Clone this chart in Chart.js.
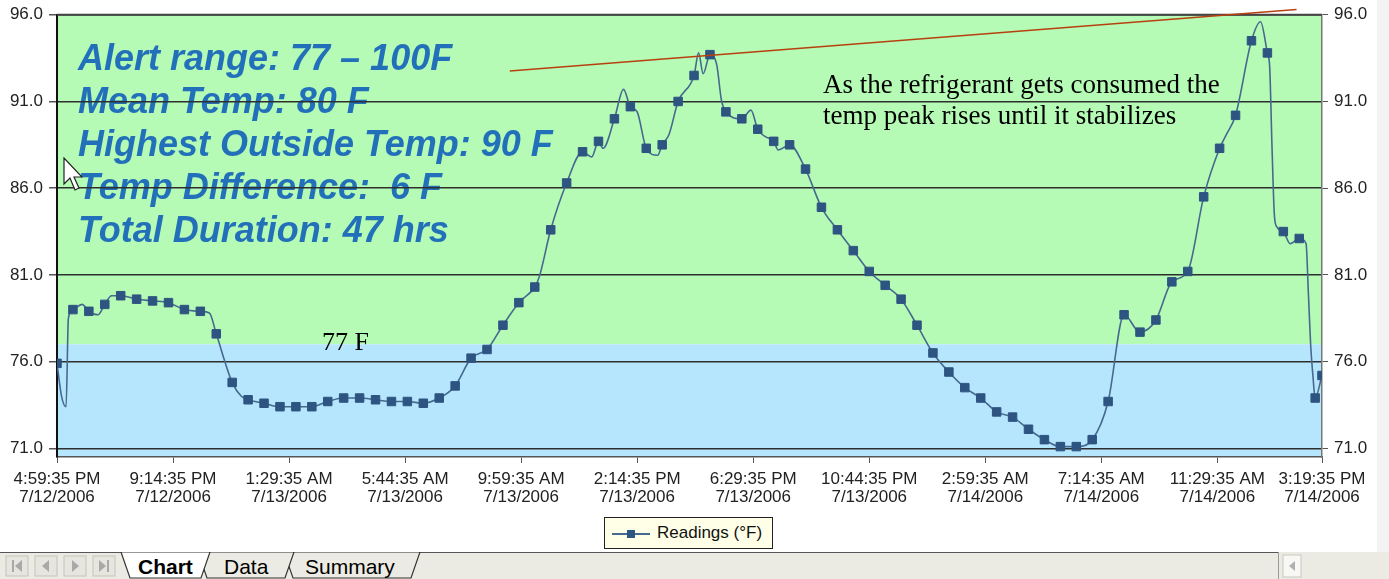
<!DOCTYPE html>
<html>
<head>
<meta charset="utf-8">
<script src="https://cdn.jsdelivr.net/npm/chart.js@4.4.1/dist/chart.umd.min.js"></script>
<style>
  body { margin: 0; background: #fff; }
  #wrap { position: relative; width: 1389px; height: 579px; overflow: hidden; font-family: "Liberation Sans", Arial, sans-serif; }
  #chart { position: absolute; left: 0; top: 0; }
  #legend { position: absolute; left: 604px; top: 517px; width: 167px; height: 30px; border: 1px solid #222; background: #ffffe8; }
  #legend .ln { position: absolute; left: 7px; top: 15px; width: 38px; height: 2px; background: #46698f; }
  #legend .mk { position: absolute; left: 22px; top: 12px; width: 8px; height: 8px; background: #2e5481; }
  #legend .tx { position: absolute; left: 52px; top: 5px; font-size: 17px; color: #111; }
  #tabs { position: absolute; left: 0; top: 552px; }
  #edge { position: absolute; left: 1377px; top: 0; width: 12px; height: 552px; background: #f3f3f3; }
  #cursor { position: absolute; left: 63px; top: 157px; }
</style>
</head>
<body>
<div id="wrap">
  <canvas id="chart" width="1389" height="579"></canvas>
  <div id="edge"></div>
  <div id="legend"><div class="ln"></div><div class="mk"></div><div class="tx">Readings (°F)</div></div>
  <svg id="tabs" width="1389" height="27" xmlns="http://www.w3.org/2000/svg">
    <rect x="0" y="0" width="1389" height="27" fill="#ecebe3"/>
    <line x1="0" y1="0.5" x2="1278" y2="0.5" stroke="#555" stroke-width="1"/>
    <g fill="#e6e5de" stroke="#c4c3bc">
      <rect x="6" y="4" width="22" height="20"/>
      <rect x="35" y="4" width="22" height="20"/>
      <rect x="64" y="4" width="22" height="20"/>
      <rect x="93" y="4" width="22" height="20"/>
    </g>
    <g fill="#a9a9a9">
      <rect x="12" y="8" width="2" height="12"/><polygon points="22,8 15,14 22,20"/>
      <polygon points="49,8 42,14 49,20"/>
      <polygon points="72,8 79,14 72,20"/>
      <polygon points="99,8 106,14 99,20"/><rect x="107" y="8" width="2" height="12"/>
    </g>
    <polygon points="284,0 293,26 411,26 420,0" fill="#ecebe3" stroke="#333" stroke-width="1.2"/>
    <polygon points="198,0 207,26 285,26 294,0" fill="#ecebe3" stroke="#333" stroke-width="1.2"/>
    <polygon points="121,0 130,26 201,26 210,0" fill="#fff" stroke="#333" stroke-width="1.2"/>
    <text x="138" y="22" font-family="Liberation Sans" font-size="21" font-weight="bold" fill="#000">Chart</text>
    <text x="224" y="22" font-family="Liberation Sans" font-size="21" fill="#000">Data</text>
    <text x="305" y="22" font-family="Liberation Sans" font-size="21" fill="#000">Summary</text>
    <line x1="1278.5" y1="0" x2="1278.5" y2="27" stroke="#9a9a9a"/>
    <rect x="1283" y="3" width="18" height="22" fill="#f7f7f4" stroke="#c9c9c2"/>
    <polygon points="1295,9 1289,14 1295,19" fill="#b0b0b0"/>
  </svg>
  <svg id="cursor" width="20" height="40" xmlns="http://www.w3.org/2000/svg">
    <path d="M1,1 L1,27 L7,21 L12,33 L16,31 L11,20 L19,20 Z" fill="#fff" stroke="#222" stroke-width="1.2"/>
  </svg>
</div>
<script>
// time axis in minutes from 4:59:35 PM 7/12/2006, one marker every 35 min
const minutes = [
  0, 10, 20, 25, 35, 55, 70, 90, 105, 120, 140, 175, 210, 245, 280, 315, 335, 350,
  385, 405, 420, 455, 490, 525, 560, 595, 630, 665, 700, 735, 770, 805, 840, 875,
  910, 945, 980, 1015, 1050, 1060, 1085, 1120, 1155, 1175, 1190, 1200, 1225, 1245,
  1260, 1275, 1295, 1320, 1330, 1345, 1365, 1400, 1410, 1420, 1435, 1450, 1460,
  1470, 1505, 1525, 1540, 1555, 1575, 1585, 1610, 1645, 1680, 1715, 1750, 1785,
  1820, 1855, 1890, 1925, 1960, 1995, 2030, 2065, 2100, 2135, 2170, 2205, 2240,
  2275, 2310, 2345, 2380, 2415, 2450, 2485, 2520, 2555, 2570, 2590, 2625, 2645,
  2660, 2665, 2670, 2675, 2680, 2695, 2710, 2730, 2745, 2750, 2755, 2760, 2765, 2780
];
const readings = [
  75.9, 74.0, 73.4, 78.5, 79.0, 79.3, 78.9, 78.7, 79.3, 79.8, 79.8, 79.6, 79.5, 79.4, 79.0, 78.9, 78.8, 77.6,
  74.8, 74.0, 73.8, 73.6, 73.4, 73.4, 73.4, 73.7, 73.9, 73.9, 73.8, 73.7, 73.7, 73.6, 73.9, 74.6,
  76.2, 76.7, 78.1, 79.4, 80.3, 80.9, 83.6, 86.3, 88.1, 87.8, 88.7, 88.3, 90.0, 91.7,
  90.7, 90.4, 88.3, 87.9, 88.5, 89.1, 91.0, 92.5, 93.8, 92.6, 93.7, 93.1, 91.1,
  90.4, 90.0, 90.5, 89.4, 89.0, 88.7, 88.2, 88.5, 87.1, 84.9, 83.6, 82.4, 81.2,
  80.4, 79.6, 78.1, 76.5, 75.4, 74.5, 73.9, 73.1, 72.8, 72.1, 71.5, 71.1, 71.1,
  71.5, 73.7, 78.7, 77.7, 78.4, 80.6, 81.2, 85.5, 88.3, 89.1, 90.2, 94.5, 95.6,
  93.8, 93.0, 88.5, 84.6, 83.8, 83.5, 82.8, 83.1, 82.8, 80.0, 77.0, 75.2, 73.9, 75.2
];

const tickMinutes = [0, 255, 510, 765, 1020, 1275, 1530, 1785, 2040, 2295, 2550, 2780];
const tickLabels = [
  ['4:59:35 PM', '7/12/2006'], ['9:14:35 PM', '7/12/2006'], ['1:29:35 AM', '7/13/2006'],
  ['5:44:35 AM', '7/13/2006'], ['9:59:35 AM', '7/13/2006'], ['2:14:35 PM', '7/13/2006'],
  ['6:29:35 PM', '7/13/2006'], ['10:44:35 PM', '7/13/2006'], ['2:59:35 AM', '7/14/2006'],
  ['7:14:35 AM', '7/14/2006'], ['11:29:35 AM', '7/14/2006'], ['3:19:35 PM', '7/14/2006']
];
const yTicks = [71, 76, 81, 86, 91, 96];
const alertLow = 77;
const markerEvery = 35;

// hand drawn trend line (minutes, temp)
const trendStart = [995, 92.75];
const trendEnd = [2724, 96.3];

const statLines = [
  'Alert range: 77 – 100F',
  'Mean Temp: 80 F',
  'Highest Outside Temp: 90 F',
  'Temp Difference:  6 F',
  'Total Duration: 47 hrs'
];
const noteLines = ['As the refrigerant gets consumed the', 'temp peak rises until it stabilizes'];

const tickFont = { family: '"Liberation Sans", Arial, sans-serif', size: 17, lineHeight: 1.03 };

// green / blue zones + text boxes (under the gridlines)
const zones = {
  id: 'zones',
  beforeDraw(chart) {
    const { ctx, chartArea: a, scales: { y } } = chart;
    const yA = y.getPixelForValue(alertLow);
    ctx.save();
    ctx.fillStyle = '#b5fbb5';
    ctx.fillRect(a.left, a.top, a.right - a.left, yA - a.top);
    ctx.fillStyle = '#b6e6fd';
    ctx.fillRect(a.left, yA, a.right - a.left, a.bottom - yA);

    ctx.fillStyle = '#2370ba';
    ctx.font = 'italic bold 36px "Liberation Sans", Arial, sans-serif';
    statLines.forEach((t, i) => ctx.fillText(t, 78, 70 + i * 43));

    ctx.fillStyle = '#000';
    ctx.font = '27px "Liberation Serif", "Times New Roman", serif';
    noteLines.forEach((t, i) => ctx.fillText(t, 823, 93 + i * 31));
    ctx.font = '26px "Liberation Serif", "Times New Roman", serif';
    ctx.fillText('77 F', 322, 350);
    ctx.restore();
  },
  afterDatasetsDraw(chart) {
    const { ctx, chartArea: a, scales: { x, y } } = chart;
    ctx.save();
    // top frame
    ctx.strokeStyle = '#444';
    ctx.lineWidth = 2;
    ctx.beginPath();
    ctx.moveTo(a.left, a.top);
    ctx.lineTo(a.right, a.top);
    ctx.stroke();
    // trend line
    ctx.strokeStyle = '#b8400f';
    ctx.lineWidth = 1.5;
    ctx.beginPath();
    ctx.moveTo(x.getPixelForValue(trendStart[0]), y.getPixelForValue(trendStart[1]));
    ctx.lineTo(x.getPixelForValue(trendEnd[0]), y.getPixelForValue(trendEnd[1]));
    ctx.stroke();
    ctx.restore();
  }
};

const ctx = document.getElementById('chart').getContext('2d');
const lastIdx = minutes.length - 1;

new Chart(ctx, {
  type: 'line',
  data: {
    datasets: [{
      label: 'Readings (°F)',
      data: minutes.map((m, i) => ({ x: m, y: readings[i] })),
      borderColor: '#46698f',
      borderWidth: 1.6,
      cubicInterpolationMode: 'monotone',
      pointStyle: 'rect',
      pointBackgroundColor: '#2e5481',
      pointBorderColor: '#2e5481',
      pointBorderWidth: 1,
      pointRadius: c => (minutes[c.dataIndex] % markerEvery === 0 || c.dataIndex === lastIdx) ? 6 : 0
    }]
  },
  options: {
    responsive: false,
    animation: false,
    layout: { padding: { top: 13, bottom: 62, left: 0, right: 0 } },
    plugins: { legend: { display: false }, tooltip: { enabled: false } },
    scales: {
      x: {
        type: 'linear',
        min: 0,
        max: 2780,
        afterBuildTicks: s => { s.ticks = tickMinutes.map(v => ({ value: v })); },
        afterFit: s => { s.height = 60; },
        ticks: {
          autoSkip: false,
          maxRotation: 0,
          padding: 8,
          color: '#222',
          font: tickFont,
          callback: (v, i) => tickLabels[i]
        },
        grid: { drawOnChartArea: false, drawTicks: true, tickLength: 6, color: '#555' },
        border: { color: '#555', width: 1.5 }
      },
      y: {
        position: 'left',
        min: 70.5,
        max: 96,
        afterBuildTicks: s => { s.ticks = yTicks.map(v => ({ value: v })); },
        afterFit: s => { s.width = 57; },
        ticks: { padding: 6, color: '#222', font: tickFont, callback: v => v.toFixed(1) },
        grid: { color: '#2e2e2e', lineWidth: 1.5, tickLength: 8, tickColor: '#555' },
        border: { color: '#111', width: 2 }
      },
      y2: {
        position: 'right',
        min: 70.5,
        max: 96,
        afterBuildTicks: s => { s.ticks = yTicks.map(v => ({ value: v })); },
        afterFit: s => { s.width = 67; },
        ticks: { padding: 6, color: '#222', font: tickFont, callback: v => v.toFixed(1) },
        grid: { drawOnChartArea: false, tickLength: 6, color: '#555' },
        border: { color: '#777', width: 1.5 }
      }
    }
  },
  plugins: [zones]
});
</script>
</body>
</html>
